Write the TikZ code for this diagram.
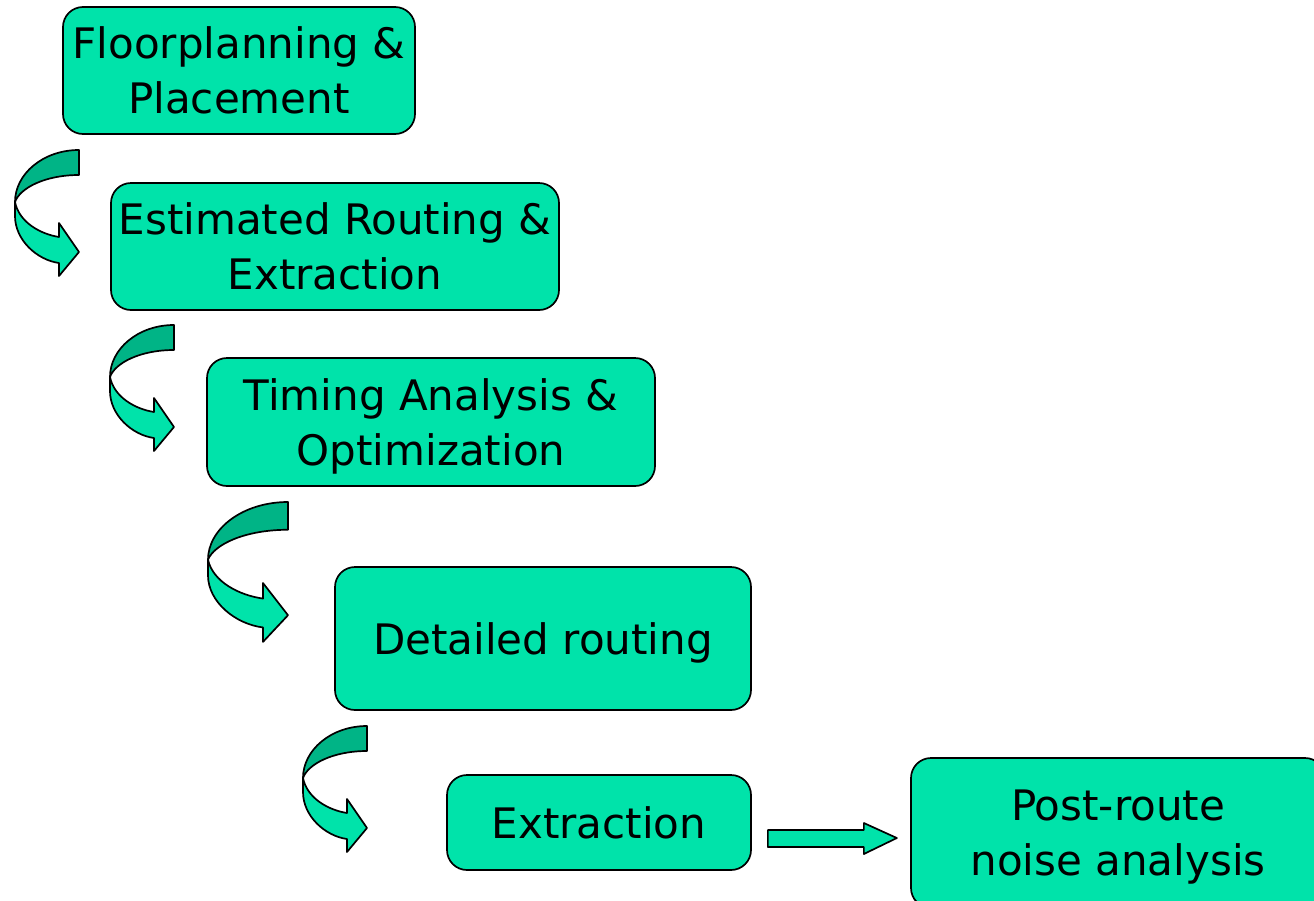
\documentclass[tikz,border=0pt]{standalone}
\usepackage{fontspec}
\setmainfont{DejaVu Sans}
\usetikzlibrary{calc}
\definecolor{boxgreen}{RGB}{0,227,170}
\definecolor{darkgreen}{RGB}{0,180,134}
\tikzset{
  stepbox/.style={draw=black, line width=1.7pt, fill=boxgreen, rounded corners=20pt,
    align=center, inner sep=0pt, font=\fontsize{42}{55}\selectfont},
  lowtext/.style={text depth=0pt},
  lightpart/.style={draw=black, line width=1.7pt, fill=boxgreen, line join=round},
  darkpart/.style={draw=black, line width=1.7pt, fill=darkgreen, line join=round},
  curvedarrow/.pic={
    \draw[darkpart] (64,0) .. controls (28,0) and (0,24) .. (0,52)
      .. controls (5,38) and (30,25) .. (64,25) -- cycle;
    \draw[lightpart] (0,52) -- (0,66) .. controls (0,90) and (22,110) .. (44,113)
      -- (44,126) -- (64,102) -- (44,73) -- (44,87)
      .. controls (25,84) and (4,72) .. (0,52) -- cycle;
  }
}
\begin{document}
\begin{tikzpicture}[x=1pt, y=-1pt]
\useasboundingbox (0,0) rectangle (1314,900);

% process steps
\node[stepbox, minimum width=352pt, minimum height=127pt] (fp) at (239,70.5)
  {Floorplanning \&\\Placement};
\node[stepbox, minimum width=448pt, minimum height=127pt] (er) at (335,246.5)
  {Estimated Routing \&\\Extraction};
\node[stepbox, lowtext, minimum width=448pt, minimum height=128pt] (ta) at (431,422)
  {Timing Analysis \&\\Optimization};
\node[stepbox, lowtext, minimum width=416pt, minimum height=143pt] (dr) at (543,638.5)
  {Detailed routing};
\node[stepbox, lowtext, minimum width=304pt, minimum height=95pt] (ex) at (599,822.5)
  {Extraction};
\node[stepbox, lowtext, minimum width=414pt, minimum height=150pt] (pr) at (1118,833)
  {Post-route\\noise analysis};

% curved arrows between the steps
\pic (c1) at (15,150) {curvedarrow};
\pic (c2) at (110,325) {curvedarrow};
\pic[xscale=1.25, yscale=1.11] (c3) at (208,502) {curvedarrow};
\pic (c4) at (303,726) {curvedarrow};

% block arrow to the last step
\draw[lightpart] ($(ex.east)+(16,7.5)$) -- ++(96,0) -- ++(0,-7) -- ++(33,15)
  -- ++(-33,16) -- ++(0,-7) -- ++(-96,0) -- cycle;
\end{tikzpicture}
\end{document}
